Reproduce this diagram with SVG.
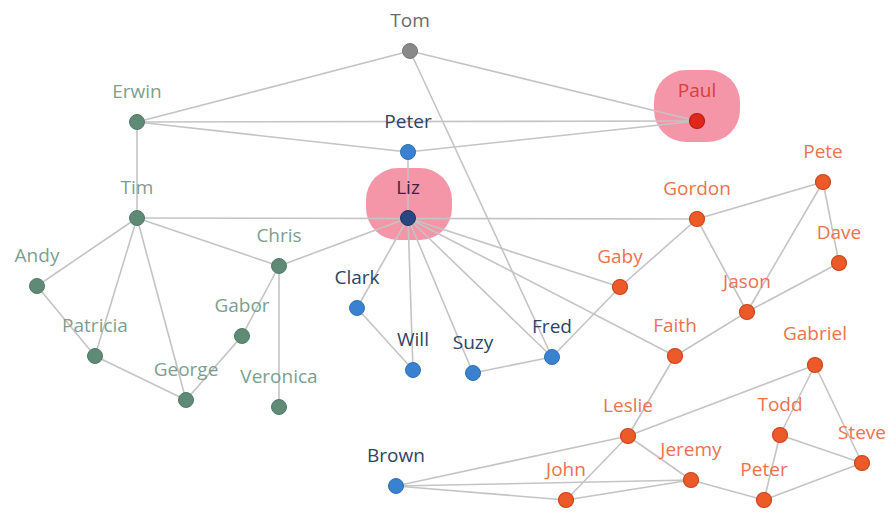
<svg xmlns="http://www.w3.org/2000/svg" width="893" height="512" viewBox="0 0 893 512">
  <style>
    .e { stroke: #c4c4c4; stroke-width: 1.6; fill: none; }
    .hl { fill: #f27a92; opacity: 0.8; }
    text { font-family: "Open Sans", "Noto Sans", sans-serif; font-size: 19px; text-anchor: middle; }
    .g circle { fill: #5e8a76; stroke: #4f7a66; stroke-width: 1; }
    .g text { fill: #7c9f8f; }
    .b circle { fill: #3a82d0; stroke: #2f6fb5; stroke-width: 1; }
    .b text { fill: #2b4468; }
    .o circle { fill: #ec5a2a; stroke: #c94519; stroke-width: 1.2; }
    .o text { fill: #ec7250; }
    .gr circle { fill: #888888; stroke: #777; stroke-width: 1; }
    .gr text { fill: #6a6a6a; }
  </style>

  <!-- highlight halos -->
  <rect class="hl" x="654" y="70" width="86" height="72" rx="32"/>
  <rect class="hl" x="366" y="168" width="86" height="72" rx="32"/>

  <g id="edges">
    <line class="e" x1="410" y1="51" x2="137" y2="122"/>
    <line class="e" x1="410" y1="51" x2="697" y2="121"/>
    <line class="e" x1="410" y1="51" x2="552" y2="357"/>
    <line class="e" x1="137" y1="122" x2="697" y2="121"/>
    <line class="e" x1="137" y1="122" x2="408" y2="152"/>
    <line class="e" x1="408" y1="152" x2="697" y2="121"/>
    <line class="e" x1="137" y1="122" x2="137" y2="218"/>
    <line class="e" x1="408" y1="152" x2="408" y2="218"/>
    <line class="e" x1="137" y1="218" x2="697" y2="219"/>
    <line class="e" x1="137" y1="218" x2="37" y2="286"/>
    <line class="e" x1="137" y1="218" x2="95" y2="356"/>
    <line class="e" x1="137" y1="218" x2="186" y2="400"/>
    <line class="e" x1="137" y1="218" x2="279" y2="266"/>
    <line class="e" x1="37" y1="286" x2="95" y2="356"/>
    <line class="e" x1="95" y1="356" x2="186" y2="400"/>
    <line class="e" x1="186" y1="400" x2="242" y2="336"/>
    <line class="e" x1="242" y1="336" x2="279" y2="266"/>
    <line class="e" x1="279" y1="266" x2="279" y2="407"/>
    <line class="e" x1="279" y1="266" x2="408" y2="218"/>
    <line class="e" x1="408" y1="218" x2="357" y2="308"/>
    <line class="e" x1="408" y1="218" x2="413" y2="370"/>
    <line class="e" x1="408" y1="218" x2="473" y2="373"/>
    <line class="e" x1="408" y1="218" x2="552" y2="357"/>
    <line class="e" x1="408" y1="218" x2="620" y2="287"/>
    <line class="e" x1="408" y1="218" x2="675" y2="356"/>
    <line class="e" x1="357" y1="308" x2="413" y2="370"/>
    <line class="e" x1="473" y1="373" x2="552" y2="357"/>
    <line class="e" x1="552" y1="357" x2="620" y2="287"/>
    <line class="e" x1="620" y1="287" x2="697" y2="219"/>
    <line class="e" x1="697" y1="219" x2="823" y2="182"/>
    <line class="e" x1="697" y1="219" x2="747" y2="312"/>
    <line class="e" x1="823" y1="182" x2="747" y2="312"/>
    <line class="e" x1="823" y1="182" x2="839" y2="263"/>
    <line class="e" x1="839" y1="263" x2="747" y2="312"/>
    <line class="e" x1="747" y1="312" x2="675" y2="356"/>
    <line class="e" x1="675" y1="356" x2="628" y2="436"/>
    <line class="e" x1="628" y1="436" x2="815" y2="365"/>
    <line class="e" x1="628" y1="436" x2="396" y2="486"/>
    <line class="e" x1="628" y1="436" x2="566" y2="500"/>
    <line class="e" x1="628" y1="436" x2="691" y2="480"/>
    <line class="e" x1="396" y1="486" x2="691" y2="480"/>
    <line class="e" x1="396" y1="486" x2="566" y2="500"/>
    <line class="e" x1="566" y1="500" x2="691" y2="480"/>
    <line class="e" x1="691" y1="480" x2="764" y2="500"/>
    <line class="e" x1="764" y1="500" x2="780" y2="435"/>
    <line class="e" x1="780" y1="435" x2="815" y2="365"/>
    <line class="e" x1="780" y1="435" x2="862" y2="463"/>
    <line class="e" x1="815" y1="365" x2="862" y2="463"/>
    <line class="e" x1="862" y1="463" x2="764" y2="500"/>
  </g>

  <g id="tom" class="gr"><circle cx="410" cy="51" r="7.5"/><text x="410" y="27">Tom</text></g>
  <g id="erwin" class="g"><circle cx="137" cy="122" r="7.5"/><text x="137" y="98">Erwin</text></g>
  <g id="peter-blue" class="b"><circle cx="408" cy="152" r="7.5"/><text x="408" y="128">Peter</text></g>
  <g id="paul" class="o"><circle cx="697" cy="121" r="7.5" style="fill:#e0281a;stroke:#b81c10"/><text x="697" y="97" style="fill:#d8403a">Paul</text></g>
  <g id="tim" class="g"><circle cx="137" cy="218" r="7.5"/><text x="137" y="194">Tim</text></g>
  <g id="liz" class="b"><circle cx="408" cy="218" r="7.5" style="fill:#2a4682;stroke:#1d3266"/><text x="408" y="194" style="fill:#3a2440">Liz</text></g>
  <g id="chris" class="g"><circle cx="279" cy="266" r="7.5"/><text x="279" y="242">Chris</text></g>
  <g id="andy" class="g"><circle cx="37" cy="286" r="7.5"/><text x="37" y="262">Andy</text></g>
  <g id="patricia" class="g"><circle cx="95" cy="356" r="7.5"/><text x="95" y="332">Patricia</text></g>
  <g id="gabor" class="g"><circle cx="242" cy="336" r="7.5"/><text x="242" y="312">Gabor</text></g>
  <g id="george" class="g"><circle cx="186" cy="400" r="7.5"/><text x="186" y="376">George</text></g>
  <g id="veronica" class="g"><circle cx="279" cy="407" r="7.5"/><text x="279" y="383">Veronica</text></g>
  <g id="clark" class="b"><circle cx="357" cy="308" r="7.5"/><text x="357" y="284">Clark</text></g>
  <g id="will" class="b"><circle cx="413" cy="370" r="7.5"/><text x="413" y="346">Will</text></g>
  <g id="suzy" class="b"><circle cx="473" cy="373" r="7.5"/><text x="473" y="349">Suzy</text></g>
  <g id="fred" class="b"><circle cx="552" cy="357" r="7.5"/><text x="552" y="333">Fred</text></g>
  <g id="brown" class="b"><circle cx="396" cy="486" r="7.5"/><text x="396" y="462">Brown</text></g>
  <g id="gordon" class="o"><circle cx="697" cy="219" r="7.5"/><text x="697" y="195">Gordon</text></g>
  <g id="pete" class="o"><circle cx="823" cy="182" r="7.5"/><text x="823" y="158">Pete</text></g>
  <g id="dave" class="o"><circle cx="839" cy="263" r="7.5"/><text x="839" y="239">Dave</text></g>
  <g id="gaby" class="o"><circle cx="620" cy="287" r="7.5"/><text x="620" y="263">Gaby</text></g>
  <g id="jason" class="o"><circle cx="747" cy="312" r="7.5"/><text x="747" y="288">Jason</text></g>
  <g id="faith" class="o"><circle cx="675" cy="356" r="7.5"/><text x="675" y="332">Faith</text></g>
  <g id="gabriel" class="o"><circle cx="815" cy="365" r="7.5"/><text x="815" y="340">Gabriel</text></g>
  <g id="leslie" class="o"><circle cx="628" cy="436" r="7.5"/><text x="628" y="412">Leslie</text></g>
  <g id="todd" class="o"><circle cx="780" cy="435" r="7.5"/><text x="780" y="411">Todd</text></g>
  <g id="steve" class="o"><circle cx="862" cy="463" r="7.5"/><text x="862" y="439">Steve</text></g>
  <g id="jeremy" class="o"><circle cx="691" cy="480" r="7.5"/><text x="691" y="456">Jeremy</text></g>
  <g id="john" class="o"><circle cx="566" cy="500" r="7.5"/><text x="566" y="476">John</text></g>
  <g id="peter-orange" class="o"><circle cx="764" cy="500" r="7.5"/><text x="764" y="476">Peter</text></g>
</svg>
